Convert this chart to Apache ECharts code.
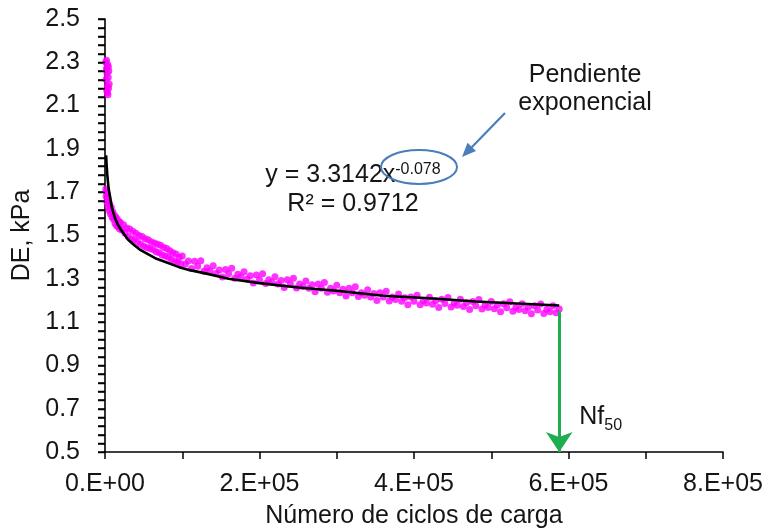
<!DOCTYPE html>
<html><head><meta charset="utf-8">
<script src="https://cdn.jsdelivr.net/npm/echarts@6/dist/echarts.min.js"></script>
<style>html,body{margin:0;padding:0;background:#fff}#c{width:771px;height:530px}</style>
</head><body><div id="c"></div>
<script>
// ---- data ----
// first cycles (upper cluster near x = 0)
const clusterCycles = [1000,1400,1800,2200,2600,3000,3400,3800,4200,4600,5000,5400,2000,3200,4400];
const clusterDE     = [2.30,2.22,2.27,2.17,2.25,2.19,2.29,2.15,2.23,2.18,2.26,2.20,2.31,2.16,2.28];
// early decay
const earlyCycles = [1000,1500,2000,2500,3000,3500,4000,4500,5000,5500,6000,7000,8000,9000,10000,11000,12000,13000,14000,15000,16000,17000,18000,19000,20000,22000,24000,26000,28000,30000,32000,34000,36000,38000,40000,42000,44000,46000,48000,50000,52000,54000,56000,58000,60000,62000,64000,66000,68000,70000,72000,74000,76000,78000,80000,82000,84000,86000,88000,90000,92000,94000,96000,98000];
const earlyDE     = [1.715,1.68,1.70,1.655,1.69,1.645,1.67,1.63,1.655,1.615,1.645,1.60,1.63,1.585,1.61,1.575,1.595,1.555,1.585,1.545,1.575,1.54,1.565,1.53,1.56,1.525,1.55,1.51,1.535,1.495,1.53,1.485,1.52,1.48,1.51,1.47,1.50,1.46,1.495,1.45,1.485,1.445,1.48,1.44,1.47,1.435,1.465,1.425,1.46,1.42,1.455,1.41,1.445,1.405,1.44,1.40,1.43,1.39,1.42,1.38,1.415,1.375,1.40,1.37];
// rest of the test
const lateCycles = [100000,104000,108000,112000,116000,120000,124000,128000,132000,136000,140000,144000,148000,152000,156000,160000,164000,168000,172000,176000,180000,184000,188000,192000,196000,200000,204000,208000,212000,216000,220000,224000,228000,232000,236000,240000,244000,248000,252000,256000,260000,264000,268000,272000,276000,280000,284000,288000,292000,296000,300000,304000,308000,312000,316000,320000,324000,328000,332000,336000,340000,344000,348000,352000,356000,360000,364000,368000,372000,376000,380000,384000,388000,392000,396000,400000,404000,408000,412000,416000,420000,424000,428000,432000,436000,440000,444000,448000,452000,456000,460000,464000,468000,472000,476000,480000,484000,488000,492000,496000,500000,504000,508000,512000,516000,520000,524000,528000,532000,536000,540000,544000,548000,552000,556000,560000,564000,568000,572000,576000,580000,584000,588000];
const lateDE     = [1.405,1.368,1.382,1.347,1.381,1.358,1.383,1.335,1.351,1.336,1.360,1.325,1.341,1.308,1.343,1.323,1.349,1.303,1.321,1.308,1.333,1.299,1.314,1.281,1.317,1.296,1.323,1.278,1.296,1.284,1.310,1.276,1.292,1.260,1.296,1.276,1.303,1.258,1.276,1.264,1.290,1.256,1.272,1.240,1.276,1.256,1.283,1.238,1.256,1.244,1.270,1.236,1.252,1.220,1.256,1.236,1.263,1.218,1.236,1.224,1.250,1.216,1.232,1.200,1.236,1.216,1.243,1.198,1.216,1.204,1.230,1.196,1.212,1.180,1.216,1.196,1.224,1.180,1.199,1.188,1.215,1.182,1.199,1.168,1.205,1.186,1.214,1.170,1.189,1.178,1.205,1.172,1.189,1.158,1.195,1.176,1.204,1.160,1.179,1.168,1.195,1.162,1.179,1.148,1.185,1.166,1.194,1.150,1.169,1.158,1.185,1.152,1.169,1.138,1.175,1.156,1.184,1.140,1.159,1.148,1.175,1.143,1.161];
// power trend line as drawn
const fitCycles = [1500,2000,3000,4000,5000,6500,8000,10000,13000,16000,20000,25000,30000,38000,45000,55000,65000,80000,95000,110000,130000,160000,200000,250000,300000,360000,420000,480000,540000,588000];
const fitDE     = [1.87,1.83,1.78,1.74,1.71,1.68,1.645,1.615,1.58,1.555,1.53,1.505,1.48,1.455,1.435,1.415,1.395,1.375,1.355,1.34,1.325,1.30,1.28,1.26,1.245,1.222,1.21,1.195,1.185,1.177];
const xTickLabels = ['0.E+00','2.E+05','4.E+05','6.E+05','8.E+05'];
const xTitle = 'Número de ciclos de carga';
const yTitle = 'DE, kPa';
const nf50Cycles = 588000;
const nf50DE = 1.15;
const yMin = 0.5, yMax = 2.5, yLabelStep = 0.2, yTickStep = 0.04;
const xMin = 0, xMax = 800000, xLabelStep = 200000, xTickStep = 100000;

const FONT = 'Liberation Sans';
const TXT = '#151515';
const chart = echarts.init(document.getElementById('c'), null, {renderer:'canvas'});
const cycles = clusterCycles.concat(earlyCycles, lateCycles);
const de = clusterDE.concat(earlyDE, lateDE);
const scatterData = cycles.map((c,i)=>[c, de[i]]);
const fitData = fitCycles.map((c,i)=>[c, fitDE[i]]);
const onStep = (v, start, step) => { const k = (v-start)/step; return Math.abs(k-Math.round(k)) < 1e-6; };
chart.setOption({
  animation:false,
  grid:{left:105, right:48, top:19, bottom:78},
  xAxis:{
    type:'value', min:xMin, max:xMax, interval:xTickStep,
    axisLine:{show:true, lineStyle:{color:'#000', width:1.6}},
    axisTick:{show:true, inside:false, length:7, lineStyle:{color:'#000', width:1.5}},
    splitLine:{show:false},
    axisLabel:{margin:20, fontSize:25, color:TXT, fontFamily:FONT,
      formatter:v=> onStep(v, xMin, xLabelStep) ? xTickLabels[Math.round((v-xMin)/xLabelStep)] : ''}
  },
  yAxis:{
    type:'value', min:yMin, max:yMax, interval:yTickStep,
    axisLine:{show:true, onZero:false, lineStyle:{color:'#000', width:1.6}},
    axisTick:{show:true, inside:false, length:7, lineStyle:{color:'#000', width:1.5}},
    splitLine:{show:false},
    axisLabel:{margin:25, fontSize:25, color:TXT, fontFamily:FONT, showMinLabel:true, showMaxLabel:true,
      formatter:v=> onStep(v, yMin, yLabelStep) ? v.toFixed(1) : ''},
    name:yTitle, nameLocation:'middle', nameGap:70, nameRotate:90,
    nameTextStyle:{fontSize:25, color:TXT, fontFamily:FONT}
  },
  series:[
    {type:'scatter', data:scatterData, symbol:'circle', symbolSize:7,
     itemStyle:{color:'#ff00ff'}, z:2, silent:true},
    {type:'line', data:fitData, showSymbol:false, smooth:false,
     lineStyle:{color:'#000', width:2.6}, z:3, silent:true},
    {type:'line', data:[], z:4, silent:true,
     markLine:{silent:true, symbol:['none','arrow'], symbolSize:[20,20], label:{show:false},
       lineStyle:{color:'#1fae4f', width:3, type:'solid'},
       data:[[{coord:[nf50Cycles, nf50DE]},{coord:[nf50Cycles, yMin]}]]}}
  ]
});

// y-axis tick marks placed through the library's own y scale (outward, like the reference)
const yTickMarks = [];
const nTicks = Math.round((yMax - yMin) / yTickStep);
for (let k = 0; k <= nTicks; k++) {
  const p = chart.convertToPixel({gridIndex:0}, [xMin, yMin + k*yTickStep]);
  const yy = Math.round(p[1]) + 0.5;
  yTickMarks.push({type:'line', silent:true, z:10, shape:{x1:p[0]-7, y1:yy, x2:p[0], y2:yy}, style:{stroke:'#000', lineWidth:1.5}});
}

const px = chart.convertToPixel({gridIndex:0}, [nf50Cycles, yMin]);
const mid = chart.convertToPixel({gridIndex:0}, [(xMin+xMax)/2, yMin]);
const blue = '#4a7ebb';
chart.setOption({
  graphic:yTickMarks.concat([
    {type:'text', x:mid[0], y:mid[1]+52, style:{text:xTitle, align:'center', verticalAlign:'top', fontSize:25, fontFamily:FONT, fill:TXT}},
    {type:'text', x:px[0]+20, y:px[1]-47, style:{
      text:'{a|Nf}{b|50}', rich:{a:{fontSize:25, fontFamily:FONT, fill:TXT, verticalAlign:'bottom'}, b:{fontSize:16, fontFamily:FONT, fill:TXT, verticalAlign:'bottom', padding:[0,0,-4,0]}}}},
    {type:'text', x:353, y:175, style:{
      text:'{a|y = 3.3142x}{s|-0.078}', align:'center', verticalAlign:'middle',
      rich:{a:{fontSize:25, fontFamily:FONT, fill:TXT}, s:{fontSize:16, fontFamily:FONT, fill:TXT, verticalAlign:'top', padding:[0,0,10,0]}}}},
    {type:'text', x:353, y:204, style:{text:'R² = 0.9712', align:'center', verticalAlign:'middle', fontSize:25, fontFamily:FONT, fill:TXT}},
    {type:'text', x:585, y:75, style:{text:'Pendiente', align:'center', verticalAlign:'middle', fontSize:25, fontFamily:FONT, fill:TXT}},
    {type:'text', x:585, y:103, style:{text:'exponencial', align:'center', verticalAlign:'middle', fontSize:25, fontFamily:FONT, fill:TXT}},
    {type:'ellipse', shape:{cx:419, cy:167, rx:38, ry:17}, style:{fill:'none', stroke:blue, lineWidth:2}},
    {type:'line', shape:{x1:505, y1:113, x2:471, y2:148}, style:{stroke:blue, lineWidth:2.2}},
    {type:'polygon', shape:{points:[[462,157],[476,151],[467.5,142.8]]}, style:{fill:blue}}
  ])
});
</script></body></html>
